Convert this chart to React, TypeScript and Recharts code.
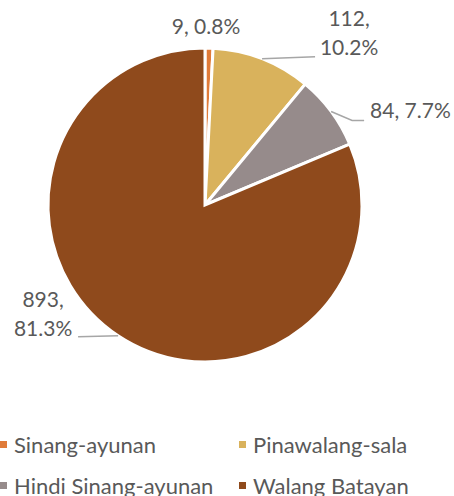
import { Legend, Pie, PieChart, Cell } from "recharts";

const categories = ["Sinang-ayunan", "Pinawalang-sala", "Hindi Sinang-ayunan", "Walang Batayan"];
const counts = [9, 112, 84, 893];
const colors = ["#E07B39", "#D9B25C", "#968B8B", "#8F4A1C"];

const data = categories.map((name, i) => ({ name, value: counts[i] }));

const RADIAN = Math.PI / 180;
const textColor = "#595959";
const lineColor = "#A6A6A6";
const font = "Lato, 'Open Sans', sans-serif";

// label placement relative to the slice's outer edge point
const labelLayout = [
    { lines: 1, dx: -3, dy: -19, anchor: "middle", leader: null },
    { lines: 2, dx: 87, dy: -38, anchor: "middle", leader: [[53, -2]] },
    { lines: 1, dx: 39, dy: 1, anchor: "start", leader: [[21, 9], [33, 9]] },
    { lines: 2, dx: -75, dy: -34, anchor: "middle", leader: [[-40, 1]] },
];

const renderLabel = (props: any) => {
    const { cx, cy, midAngle, outerRadius, index, value, percent } = props;
    const ex = cx + outerRadius * Math.cos(-midAngle * RADIAN);
    const ey = cy + outerRadius * Math.sin(-midAngle * RADIAN);
    const layout = labelLayout[index];
    const pct = (percent * 100).toFixed(1) + "%";
    const tx = ex + layout.dx;
    const ty = ey + layout.dy;
    const pts = layout.leader
        ? [[ex, ey], ...layout.leader.map(([x, y]) => [ex + x, ey + y])]
        : null;
    return (
        <g key={`label-${index}`}>
            {pts && (
                <polyline
                    points={pts.map((p) => p.join(",")).join(" ")}
                    fill="none"
                    stroke={lineColor}
                    strokeWidth={1.5}
                />
            )}
            {layout.lines === 1 ? (
                <text x={tx} y={ty} textAnchor={layout.anchor} dominantBaseline="middle"
                    fill={textColor} fontSize={21} fontFamily={font}>
                    {`${value}, ${pct}`}
                </text>
            ) : (
                <text x={tx} y={ty} textAnchor={layout.anchor} dominantBaseline="middle"
                    fill={textColor} fontSize={21} fontFamily={font}>
                    <tspan x={tx} dy={0}>{`${value},`}</tspan>
                    <tspan x={tx} dy={29}>{pct}</tspan>
                </text>
            )}
        </g>
    );
};

const renderLegend = () => (
    <div
        style={{
            display: "grid",
            gridTemplateColumns: "239px 215px",
            rowGap: 15,
            fontFamily: font,
            fontSize: 22,
            color: textColor,
        }}
    >
        {categories.map((name, i) => (
            <div key={name} style={{ display: "flex", alignItems: "center", height: 26 }}>
                <span
                    style={{
                        display: "inline-block",
                        width: 7,
                        height: 7,
                        background: colors[i],
                        marginRight: 7,
                    }}
                />
                {name}
            </div>
        ))}
    </div>
);

export default function App() {
    return (
        <div style={{ position: "absolute", left: 0, top: 0, background: "#fff" }}>
            <PieChart width={454} height={496} margin={{ top: 0, right: 0, bottom: 0, left: 0 }}>
                <Pie
                    data={data}
                    dataKey="value"
                    nameKey="name"
                    cx={205}
                    cy={205}
                    outerRadius={157}
                    startAngle={90}
                    endAngle={-270}
                    stroke="#fff"
                    strokeWidth={3}
                    label={renderLabel}
                    labelLine={false}
                    isAnimationActive={false}
                >
                    {data.map((_, index) => (
                        <Cell key={index} fill={colors[index]} />
                    ))}
                </Pie>
                <Legend
                    content={renderLegend}
                    wrapperStyle={{ left: 0, top: 431, width: 454 }}
                />
            </PieChart>
        </div>
    );
}
